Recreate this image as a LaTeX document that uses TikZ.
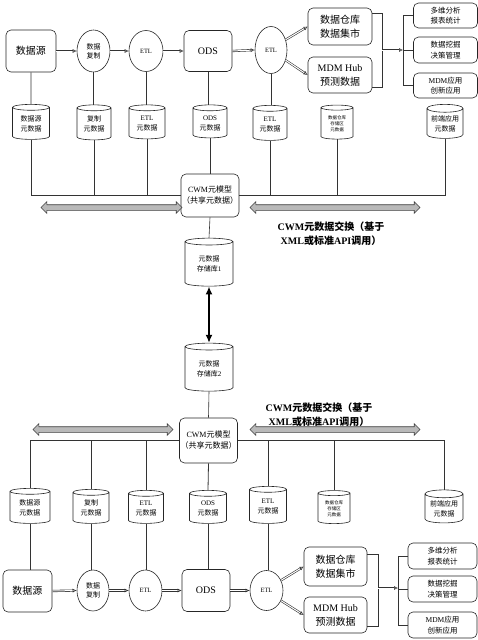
\documentclass[tikz,border=0pt]{standalone}
\usepackage{fontspec}
\setmainfont{Liberation Serif}
\newfontfamily\cjk{Noto Sans CJK SC}
\newcommand{\zh}[1]{{\cjk #1}}
\usetikzlibrary{shapes.geometric,shapes.arrows,arrows.meta,calc}
\begin{document}
\begin{tikzpicture}[x=1pt,y=-1pt,
  box/.style={draw=black!85, line width=0.6pt, rounded corners=5pt, align=center, inner sep=1pt, fill=white},
  ell/.style={ellipse, draw=black!85, line width=0.6pt, align=center, inner sep=0pt, fill=white},
  cyl/.style={cylinder, shape border rotate=90, aspect=0.28, draw=black!85, line width=0.6pt, align=center, inner sep=0pt, fill=white, font=\fontsize{7}{10}\selectfont},
  link/.style={draw=black!80, line width=0.8pt},
  flow/.style={draw=black!80, double=white, double distance=1pt, line width=0.6pt, -{Latex[open,length=4pt,width=4pt]}},
  wide/.style={double arrow, draw=black!75, fill=gray!55, line width=0.6pt, inner xsep=0pt, inner ysep=2.5pt, double arrow head extend=3pt},
  big/.style={font=\fontsize{10}{14}\selectfont},
  small/.style={font=\fontsize{7}{9}\selectfont},
  tiny/.style={font=\fontsize{6.5}{8}\selectfont},
  app/.style={font=\fontsize{7.5}{10.5}\selectfont},
  lab/.style={align=center, font=\bfseries\fontsize{10}{14}\selectfont},
  thickarrow/.style={draw=black, line width=1.6pt, {Latex[length=8pt,width=7pt]}-{Latex[length=8pt,width=7pt]}}
]
\useasboundingbox (0,0) rectangle (478,640);

% ---------------- top row ----------------
\node[box, big, minimum width=50pt, minimum height=42pt] (src1) at (31,51) {\zh{数据源}};
\node[ell, small, minimum width=33pt, minimum height=42pt] (rep1) at (93.5,51) {\zh{数据}\\\zh{复制}};
\node[ell, tiny, minimum width=34pt, minimum height=41pt] (etl1) at (146,51) {ETL};
\node[box, big, minimum width=48pt, minimum height=41pt] (ods1) at (208,51) {ODS};
\node[ell, tiny, minimum width=32pt, minimum height=47pt] (etl2) at (271,50) {ETL};
\node[box, big, minimum width=64pt, minimum height=37pt] (dw1) at (340,26.5) {\zh{数据仓库}\\\zh{数据集市}};
\node[box, big, minimum width=64pt, minimum height=36pt] (mdm1) at (340,75) {MDM Hub\\\zh{预测数据}};
\node[box, app, minimum width=64pt, minimum height=25pt] (ra1) at (445.5,15.5) {\zh{多维分析}\\\zh{报表统计}};
\node[box, app, minimum width=64pt, minimum height=26pt] (rb1) at (445.5,50) {\zh{数据挖掘}\\\zh{决策管理}};
\node[box, app, minimum width=64pt, minimum height=25pt] (rc1) at (445.5,85.5) {MDM\zh{应用}\\\zh{创新应用}};

\draw[flow] (src1.east) -- (rep1.west);
\draw[flow] (rep1.east) -- (etl1.west);
\draw[flow] (etl1.east) -- (ods1.west);
\draw[flow] (ods1.east) -- (etl2.west);
\draw[flow] (etl2.35) -- (dw1.west);
\draw[flow] (etl2.-35) -- (mdm1.west);

\coordinate (b1t) at (382,13);
\coordinate (b1b) at (382,87);
\coordinate (b1m) at (382,50);
\coordinate (b1r) at (403,50);
\draw[link] (b1t -| dw1.east) -- (b1t) -- (b1b) -- (b1b -| mdm1.east);
\draw[flow] (b1m) -- (b1r);
\draw[link] (b1r |- ra1.west) -- (b1r |- rc1.west);
\draw[link] (b1r |- ra1.west) -- (ra1.west);
\draw[link] (b1r |- rb1.west) -- (rb1.west);
\draw[link] (b1r |- rc1.west) -- (rc1.west);

% top cylinders
\node[cyl, minimum width=37pt, minimum height=35pt] (c1a) at (31,123.5) {\zh{数据源}\\\zh{元数据}};
\node[cyl, minimum width=34pt, minimum height=35pt] (c1b) at (94,124) {\zh{复制}\\\zh{元数据}};
\node[cyl, minimum width=36pt, minimum height=34pt] (c1c) at (147,123.5) {ETL\\\zh{元数据}};
\node[cyl, minimum width=34pt, minimum height=33pt] (c1d) at (210,123) {ODS\\\zh{元数据}};
\node[cyl, minimum width=34pt, minimum height=35pt] (c1e) at (270,124.5) {ETL\\\zh{元数据}};
\node[cyl, minimum width=32pt, minimum height=34pt, font=\fontsize{4.5}{6}\selectfont] (c1f) at (337,123.5) {\zh{数据仓库}\\\zh{存储区}\\\zh{元数据}};
\node[cyl, minimum width=36pt, minimum height=34pt] (c1g) at (445,123.5) {\zh{前端应用}\\\zh{元数据}};

\draw[link] (src1.south) -- (c1a.north);
\draw[link] (rep1.south) -- (rep1.south |- c1b.north);
\draw[link] (etl1.south) -- (etl1.south |- c1c.north);
\draw[link] (ods1.south) -- (ods1.south |- c1d.north);
\draw[link] (etl2.south) -- (etl2.south |- c1e.north);

% CWM 1
\node[box, font=\fontsize{8}{11}\selectfont, minimum width=58pt, minimum height=43pt] (cwm1) at (210,195.5) {CWM\zh{元模型}\\\zh{（共享元数据）}};
\draw[link] (c1d.south) -- (cwm1.north);
\draw[link] (c1a.south) |- (cwm1.west);
\draw[link] (c1b.south) -- (c1b.south |- cwm1.west);
\draw[link] (c1c.south) -- (c1c.south |- cwm1.west);
\draw[link] (c1g.south) |- (cwm1.east);
\draw[link] (c1e.south) -- (c1e.south |- cwm1.east);
\draw[link] (c1f.south) -- (c1f.south |- cwm1.east);

\node[wide, minimum height=141pt] (wl1) at (111.5,207.5) {};
\node[wide, minimum height=170pt] (wr1) at (335,207.5) {};
\node[lab] (lab1) at (331,234) {CWM\zh{元数据交换（基于}\\XML\zh{或标准}API\zh{调用）}};

% storage
\node[cyl, minimum width=48pt, minimum height=48pt] (st1) at (209,264) {\zh{元数据}\\\zh{存储库}1};
\node[cyl, minimum width=48pt, minimum height=48pt] (st2) at (209,369) {\zh{元数据}\\\zh{存储库}2};
\draw[link, line width=0.6pt] (cwm1.south) -- (st1.north);
\draw[thickarrow] (st1.south) -- (st2.north);

% CWM 2
\node[box, font=\fontsize{8}{11}\selectfont, minimum width=57pt, minimum height=45pt] (cwm2) at (208.5,440.5) {CWM\zh{元模型}\\\zh{（共享元数据）}};
\draw[link, line width=0.6pt] (st2.south) -- (cwm2.north);
\node[lab] (lab2) at (319,415) {CWM\zh{元数据交换（基于}\\XML\zh{或标准}API\zh{调用）}};
\node[wide, minimum height=140pt] (wl2) at (103,429.5) {};
\node[wide, minimum height=170pt] (wr2) at (335,429.5) {};

% bottom cylinders
\node[cyl, minimum width=40pt, minimum height=35pt] (c2a) at (30,507.5) {\zh{数据源}\\\zh{元数据}};
\node[cyl, minimum width=36pt, minimum height=34pt] (c2b) at (91,508) {\zh{复制}\\\zh{元数据}};
\node[cyl, minimum width=35pt, minimum height=33pt] (c2c) at (146,508.5) {ETL\\\zh{元数据}};
\node[cyl, minimum width=37pt, minimum height=33pt] (c2d) at (208,508.5) {ODS\\\zh{元数据}};
\node[cyl, minimum width=37pt, minimum height=37pt] (c2e) at (268,506.5) {ETL\\\zh{元数据}};
\node[cyl, minimum width=32pt, minimum height=33pt, font=\fontsize{4.5}{6}\selectfont] (c2f) at (334,508.5) {\zh{数据仓库}\\\zh{存储区}\\\zh{元数据}};
\node[cyl, minimum width=38pt, minimum height=33pt] (c2g) at (444,508.5) {\zh{前端应用}\\\zh{元数据}};

\draw[link] (c2d.north) -- (cwm2.south);
\draw[link] (c2a.north) |- (cwm2.west);
\draw[link] (c2b.north) -- (c2b.north |- cwm2.west);
\draw[link] (c2c.north) -- (c2c.north |- cwm2.west);
\draw[link] (c2g.north) |- (cwm2.east);
\draw[link] (c2e.north) -- (c2e.north |- cwm2.east);
\draw[link] (c2f.north) -- (c2f.north |- cwm2.east);

% bottom row
\node[box, big, minimum width=49pt, minimum height=42pt] (src2) at (27.5,591) {\zh{数据源}};
\node[ell, small, minimum width=32pt, minimum height=41pt] (rep2) at (93,590.5) {\zh{数据}\\\zh{复制}};
\node[ell, tiny, minimum width=33pt, minimum height=41pt] (etl3) at (145.5,590.5) {ETL};
\node[box, big, minimum width=48pt, minimum height=42pt] (ods2) at (206,590.5) {ODS};
\node[ell, tiny, minimum width=33pt, minimum height=40pt] (etl4) at (266.5,590.5) {ETL};
\node[box, big, minimum width=63pt, minimum height=39pt] (dw2) at (335.5,566.5) {\zh{数据仓库}\\\zh{数据集市}};
\node[box, big, minimum width=63pt, minimum height=36pt] (mdm2) at (335.5,615) {MDM Hub\\\zh{预测数据}};
\node[box, app, minimum width=69pt, minimum height=26pt] (ra2) at (442.5,556) {\zh{多维分析}\\\zh{报表统计}};
\node[box, app, minimum width=69pt, minimum height=26pt] (rb2) at (442.5,589) {\zh{数据挖掘}\\\zh{决策管理}};
\node[box, app, minimum width=69pt, minimum height=26pt] (rc2) at (442.5,625) {MDM\zh{应用}\\\zh{创新应用}};

\draw[link] (c2a.south) -- (c2a.south |- src2.north);
\draw[link] (c2b.south) -- (c2b.south |- rep2.north);
\draw[link] (c2c.south) -- (c2c.south |- etl3.north);
\draw[link] (c2d.south) -- (c2d.south |- ods2.north);
\draw[link] (c2e.south) -- (c2e.south |- etl4.north);

\draw[flow] (src2.east) -- (rep2.west);
\draw[flow] (rep2.east) -- (etl3.west);
\draw[flow] (etl3.east) -- (ods2.west);
\draw[flow] (ods2.east) -- (etl4.west);
\draw[flow] (etl4.35) -- (dw2.west);
\draw[flow] (etl4.-35) -- (mdm2.west);

\coordinate (b2t) at (378,554);
\coordinate (b2b) at (378,626);
\coordinate (b2m) at (378,588);
\coordinate (b2r) at (398,588);
\draw[link] (b2t -| dw2.east) -- (b2t) -- (b2b) -- (b2b -| mdm2.east);
\draw[flow] (b2m) -- (b2r);
\draw[link] (b2r |- ra2.west) -- (b2r |- rc2.west);
\draw[link] (b2r |- ra2.west) -- (ra2.west);
\draw[link] (b2r |- rb2.west) -- (rb2.west);
\draw[link] (b2r |- rc2.west) -- (rc2.west);
\end{tikzpicture}
\end{document}
